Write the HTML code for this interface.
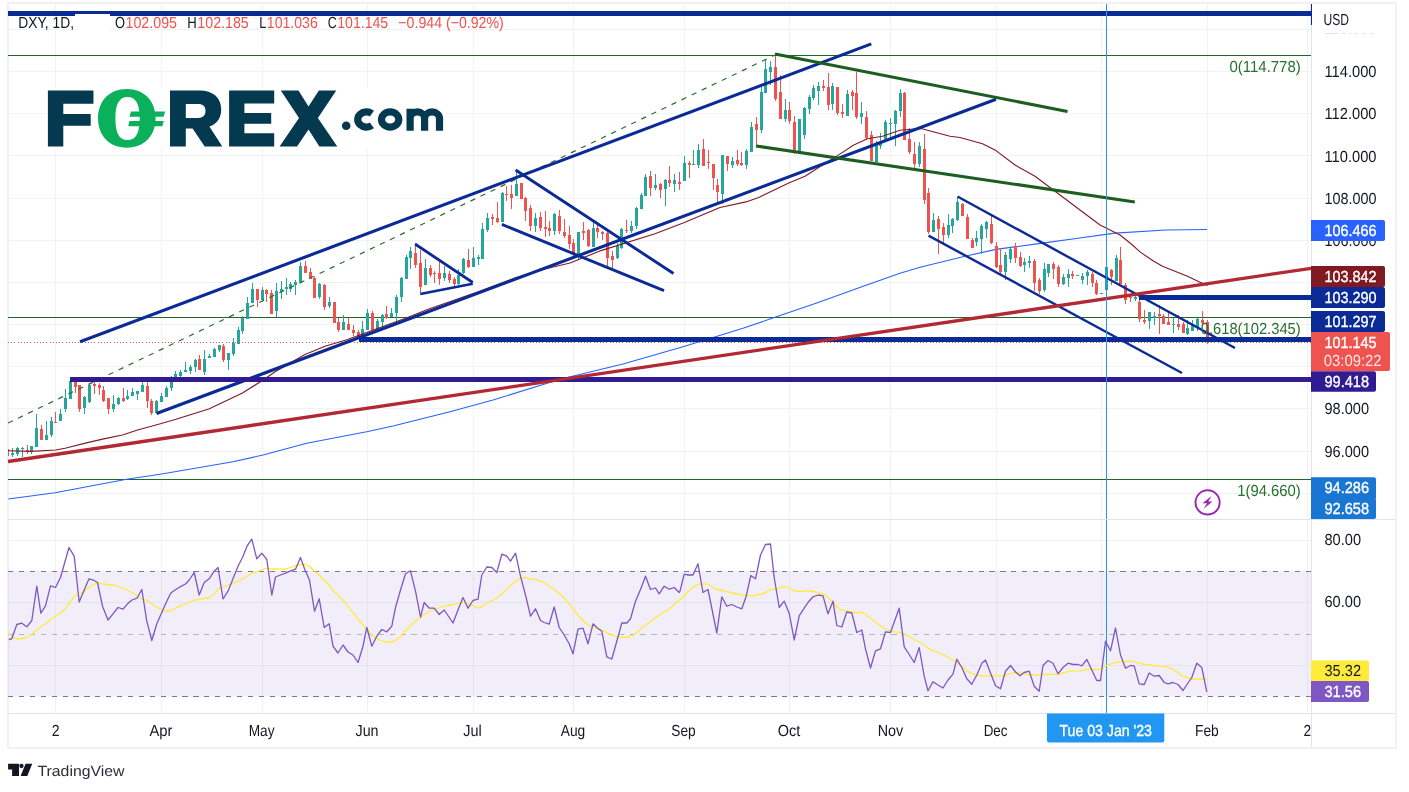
<!DOCTYPE html>
<html><head><meta charset="utf-8"><title>DXY chart</title>
<style>html,body{margin:0;padding:0;background:#fff;}body{width:1409px;height:792px;overflow:hidden;font-family:"Liberation Sans",sans-serif;}svg{display:block;will-change:transform}</style>
</head><body>
<svg width="1409" height="792" viewBox="0 0 1409 792" text-rendering="geometricPrecision" font-family="Liberation Sans, sans-serif">
<rect x="0" y="0" width="1409" height="792" fill="#ffffff"/>
<rect x="8" y="3" width="1388" height="745" fill="none" stroke="#f0f1f7" stroke-width="2"/>
<g shape-rendering="crispEdges">
<line x1="55.5" y1="4" x2="55.5" y2="713.5" stroke="#f1f3f3" stroke-width="1"/>
<line x1="161.5" y1="4" x2="161.5" y2="713.5" stroke="#f1f3f3" stroke-width="1"/>
<line x1="262.5" y1="4" x2="262.5" y2="713.5" stroke="#f1f3f3" stroke-width="1"/>
<line x1="367.5" y1="4" x2="367.5" y2="713.5" stroke="#f1f3f3" stroke-width="1"/>
<line x1="473.5" y1="4" x2="473.5" y2="713.5" stroke="#f1f3f3" stroke-width="1"/>
<line x1="573.5" y1="4" x2="573.5" y2="713.5" stroke="#f1f3f3" stroke-width="1"/>
<line x1="684.5" y1="4" x2="684.5" y2="713.5" stroke="#f1f3f3" stroke-width="1"/>
<line x1="789.5" y1="4" x2="789.5" y2="713.5" stroke="#f1f3f3" stroke-width="1"/>
<line x1="890.5" y1="4" x2="890.5" y2="713.5" stroke="#f1f3f3" stroke-width="1"/>
<line x1="996.5" y1="4" x2="996.5" y2="713.5" stroke="#f1f3f3" stroke-width="1"/>
<line x1="1101.5" y1="4" x2="1101.5" y2="713.5" stroke="#f1f3f3" stroke-width="1"/>
<line x1="1207.5" y1="4" x2="1207.5" y2="713.5" stroke="#f1f3f3" stroke-width="1"/>
<line x1="1307.5" y1="4" x2="1307.5" y2="713.5" stroke="#f1f3f3" stroke-width="1"/>
<line x1="8" y1="29.5" x2="1311" y2="29.5" stroke="#f1f3f3" stroke-width="1"/>
<line x1="8" y1="71.5" x2="1311" y2="71.5" stroke="#f1f3f3" stroke-width="1"/>
<line x1="8" y1="113.5" x2="1311" y2="113.5" stroke="#f1f3f3" stroke-width="1"/>
<line x1="8" y1="155.5" x2="1311" y2="155.5" stroke="#f1f3f3" stroke-width="1"/>
<line x1="8" y1="198.5" x2="1311" y2="198.5" stroke="#f1f3f3" stroke-width="1"/>
<line x1="8" y1="240.5" x2="1311" y2="240.5" stroke="#f1f3f3" stroke-width="1"/>
<line x1="8" y1="282.5" x2="1311" y2="282.5" stroke="#f1f3f3" stroke-width="1"/>
<line x1="8" y1="324.5" x2="1311" y2="324.5" stroke="#f1f3f3" stroke-width="1"/>
<line x1="8" y1="366.5" x2="1311" y2="366.5" stroke="#f1f3f3" stroke-width="1"/>
<line x1="8" y1="408.5" x2="1311" y2="408.5" stroke="#f1f3f3" stroke-width="1"/>
<line x1="8" y1="451.5" x2="1311" y2="451.5" stroke="#f1f3f3" stroke-width="1"/>
<line x1="8" y1="493.5" x2="1311" y2="493.5" stroke="#f1f3f3" stroke-width="1"/>
<line x1="8" y1="540.5" x2="1311" y2="540.5" stroke="#f1f3f3" stroke-width="1"/>
<line x1="8" y1="602.5" x2="1311" y2="602.5" stroke="#f1f3f3" stroke-width="1"/>
<line x1="8" y1="665.5" x2="1311" y2="665.5" stroke="#f1f3f3" stroke-width="1"/>
</g>
<rect x="8" y="571" width="1303" height="125.5" fill="#7e57c2" fill-opacity="0.1"/>
<g shape-rendering="crispEdges">
<line x1="8" y1="571.5" x2="1311" y2="571.5" stroke="#787b86" stroke-width="1" stroke-dasharray="5.2 5.705"/>
<line x1="8" y1="634.5" x2="1311" y2="634.5" stroke="#787b86" stroke-width="1" stroke-dasharray="5.2 5.705" stroke-opacity="0.5"/>
<line x1="8" y1="696.5" x2="1311" y2="696.5" stroke="#787b86" stroke-width="1" stroke-dasharray="5.2 5.705"/>
</g>
<g shape-rendering="crispEdges">
<line x1="8" y1="55.5" x2="1311" y2="55.5" stroke="#22662a" stroke-width="1"/>
<line x1="8" y1="317.5" x2="1311" y2="317.5" stroke="#22662a" stroke-width="1"/>
<line x1="8" y1="479.5" x2="1311" y2="479.5" stroke="#22662a" stroke-width="1"/>
<line x1="8" y1="342.5" x2="1311" y2="342.5" stroke="#ef5350" stroke-width="1" stroke-dasharray="1 2.2"/>
</g>
<polyline fill="none" stroke="#2962ff" stroke-width="1.1" stroke-linejoin="round" points="8.3,499 55,492.7 126.7,479.3 161.7,474 233,461.7 263,455 306.7,443.3 366.7,431.7 393,426 450,411.7 493,400 560,379.3 623,364 683,346.7 743,328.3 775,317.3 816,303.3 866.7,285 900,273.2 920,267.3 965,256.25 996,249.4 1042.5,243.1 1076,238.5 1115,233.1 1166,230 1207,229.5"/>
<clipPath id="plot"><rect x="8" y="4" width="1303" height="709"/></clipPath>
<g shape-rendering="crispEdges" clip-path="url(#plot)">
<rect x="8" y="449" width="1" height="7" fill="#ef5350"/>
<rect x="12" y="448" width="1" height="9" fill="#26a69a"/>
<rect x="11" y="453" width="3" height="2" fill="#26a69a"/>
<rect x="17" y="447" width="1" height="9" fill="#26a69a"/>
<rect x="16" y="448" width="3" height="6" fill="#26a69a"/>
<rect x="22" y="447" width="1" height="10" fill="#26a69a"/>
<rect x="21" y="448" width="3" height="1" fill="#26a69a"/>
<rect x="27" y="445" width="1" height="9" fill="#ef5350"/>
<rect x="26" y="450" width="3" height="1" fill="#ef5350"/>
<rect x="31" y="446" width="1" height="8" fill="#26a69a"/>
<rect x="30" y="446" width="3" height="6" fill="#26a69a"/>
<rect x="36" y="414" width="1" height="33" fill="#26a69a"/>
<rect x="35" y="428" width="3" height="19" fill="#26a69a"/>
<rect x="41" y="425" width="1" height="15" fill="#ef5350"/>
<rect x="40" y="429" width="3" height="11" fill="#ef5350"/>
<rect x="46" y="421" width="1" height="19" fill="#26a69a"/>
<rect x="45" y="435" width="3" height="5" fill="#26a69a"/>
<rect x="51" y="417" width="1" height="20" fill="#26a69a"/>
<rect x="50" y="421" width="3" height="14" fill="#26a69a"/>
<rect x="55" y="412" width="1" height="11" fill="#ef5350"/>
<rect x="54" y="422" width="3" height="1" fill="#ef5350"/>
<rect x="60" y="409" width="1" height="12" fill="#26a69a"/>
<rect x="59" y="414" width="3" height="7" fill="#26a69a"/>
<rect x="65" y="389" width="1" height="23" fill="#26a69a"/>
<rect x="64" y="398" width="3" height="11" fill="#26a69a"/>
<rect x="70" y="380" width="1" height="19" fill="#26a69a"/>
<rect x="69" y="381" width="3" height="18" fill="#26a69a"/>
<rect x="75" y="378" width="1" height="15" fill="#ef5350"/>
<rect x="74" y="380" width="3" height="7" fill="#ef5350"/>
<rect x="79" y="385" width="1" height="27" fill="#ef5350"/>
<rect x="78" y="385" width="3" height="24" fill="#ef5350"/>
<rect x="84" y="396" width="1" height="18" fill="#26a69a"/>
<rect x="83" y="397" width="3" height="11" fill="#26a69a"/>
<rect x="89" y="384" width="1" height="19" fill="#26a69a"/>
<rect x="88" y="385" width="3" height="17" fill="#26a69a"/>
<rect x="94" y="382" width="1" height="12" fill="#ef5350"/>
<rect x="93" y="384" width="3" height="2" fill="#ef5350"/>
<rect x="99" y="383" width="1" height="12" fill="#ef5350"/>
<rect x="98" y="385" width="3" height="3" fill="#ef5350"/>
<rect x="103" y="386" width="1" height="16" fill="#ef5350"/>
<rect x="102" y="390" width="3" height="11" fill="#ef5350"/>
<rect x="108" y="398" width="1" height="16" fill="#ef5350"/>
<rect x="107" y="398" width="3" height="11" fill="#ef5350"/>
<rect x="113" y="395" width="1" height="17" fill="#26a69a"/>
<rect x="112" y="404" width="3" height="5" fill="#26a69a"/>
<rect x="118" y="397" width="1" height="8" fill="#26a69a"/>
<rect x="117" y="398" width="3" height="6" fill="#26a69a"/>
<rect x="123" y="388" width="1" height="14" fill="#ef5350"/>
<rect x="122" y="398" width="3" height="3" fill="#ef5350"/>
<rect x="127" y="390" width="1" height="10" fill="#26a69a"/>
<rect x="126" y="396" width="3" height="3" fill="#26a69a"/>
<rect x="132" y="388" width="1" height="8" fill="#26a69a"/>
<rect x="131" y="392" width="3" height="4" fill="#26a69a"/>
<rect x="137" y="391" width="1" height="9" fill="#26a69a"/>
<rect x="136" y="391" width="3" height="3" fill="#26a69a"/>
<rect x="142" y="380" width="1" height="12" fill="#26a69a"/>
<rect x="141" y="385" width="3" height="7" fill="#26a69a"/>
<rect x="147" y="378" width="1" height="30" fill="#ef5350"/>
<rect x="146" y="386" width="3" height="15" fill="#ef5350"/>
<rect x="151" y="399" width="1" height="16" fill="#ef5350"/>
<rect x="150" y="401" width="3" height="12" fill="#ef5350"/>
<rect x="156" y="400" width="1" height="13" fill="#26a69a"/>
<rect x="155" y="401" width="3" height="12" fill="#26a69a"/>
<rect x="161" y="393" width="1" height="9" fill="#26a69a"/>
<rect x="160" y="396" width="3" height="6" fill="#26a69a"/>
<rect x="166" y="386" width="1" height="11" fill="#26a69a"/>
<rect x="165" y="388" width="3" height="9" fill="#26a69a"/>
<rect x="171" y="376" width="1" height="15" fill="#26a69a"/>
<rect x="170" y="382" width="3" height="6" fill="#26a69a"/>
<rect x="175" y="371" width="1" height="7" fill="#26a69a"/>
<rect x="174" y="374" width="3" height="4" fill="#26a69a"/>
<rect x="180" y="370" width="1" height="8" fill="#26a69a"/>
<rect x="179" y="372" width="3" height="4" fill="#26a69a"/>
<rect x="185" y="362" width="1" height="10" fill="#26a69a"/>
<rect x="184" y="370" width="3" height="2" fill="#26a69a"/>
<rect x="190" y="365" width="1" height="9" fill="#26a69a"/>
<rect x="189" y="367" width="3" height="4" fill="#26a69a"/>
<rect x="195" y="359" width="1" height="13" fill="#26a69a"/>
<rect x="194" y="360" width="3" height="7" fill="#26a69a"/>
<rect x="199" y="355" width="1" height="15" fill="#ef5350"/>
<rect x="198" y="359" width="3" height="11" fill="#ef5350"/>
<rect x="204" y="350" width="1" height="25" fill="#26a69a"/>
<rect x="203" y="359" width="3" height="13" fill="#26a69a"/>
<rect x="209" y="354" width="1" height="4" fill="#26a69a"/>
<rect x="208" y="356" width="3" height="2" fill="#26a69a"/>
<rect x="214" y="348" width="1" height="9" fill="#26a69a"/>
<rect x="213" y="349" width="3" height="8" fill="#26a69a"/>
<rect x="219" y="345" width="1" height="7" fill="#26a69a"/>
<rect x="218" y="345" width="3" height="5" fill="#26a69a"/>
<rect x="223" y="344" width="1" height="18" fill="#ef5350"/>
<rect x="222" y="346" width="3" height="14" fill="#ef5350"/>
<rect x="228" y="353" width="1" height="17" fill="#26a69a"/>
<rect x="227" y="353" width="3" height="7" fill="#26a69a"/>
<rect x="233" y="338" width="1" height="18" fill="#26a69a"/>
<rect x="232" y="343" width="3" height="11" fill="#26a69a"/>
<rect x="238" y="327" width="1" height="17" fill="#26a69a"/>
<rect x="237" y="330" width="3" height="14" fill="#26a69a"/>
<rect x="242" y="316" width="1" height="18" fill="#26a69a"/>
<rect x="241" y="318" width="3" height="13" fill="#26a69a"/>
<rect x="247" y="297" width="1" height="22" fill="#26a69a"/>
<rect x="246" y="303" width="3" height="16" fill="#26a69a"/>
<rect x="252" y="283" width="1" height="20" fill="#26a69a"/>
<rect x="251" y="289" width="3" height="14" fill="#26a69a"/>
<rect x="257" y="289" width="1" height="18" fill="#ef5350"/>
<rect x="256" y="289" width="3" height="11" fill="#ef5350"/>
<rect x="262" y="287" width="1" height="14" fill="#26a69a"/>
<rect x="261" y="290" width="3" height="10" fill="#26a69a"/>
<rect x="266" y="289" width="1" height="13" fill="#ef5350"/>
<rect x="265" y="290" width="3" height="4" fill="#ef5350"/>
<rect x="271" y="290" width="1" height="24" fill="#ef5350"/>
<rect x="270" y="293" width="3" height="21" fill="#ef5350"/>
<rect x="276" y="283" width="1" height="34" fill="#26a69a"/>
<rect x="275" y="291" width="3" height="20" fill="#26a69a"/>
<rect x="281" y="281" width="1" height="18" fill="#26a69a"/>
<rect x="280" y="289" width="3" height="3" fill="#26a69a"/>
<rect x="286" y="278" width="1" height="17" fill="#26a69a"/>
<rect x="285" y="287" width="3" height="2" fill="#26a69a"/>
<rect x="290" y="282" width="1" height="10" fill="#26a69a"/>
<rect x="289" y="284" width="3" height="5" fill="#26a69a"/>
<rect x="295" y="280" width="1" height="15" fill="#26a69a"/>
<rect x="294" y="282" width="3" height="3" fill="#26a69a"/>
<rect x="300" y="262" width="1" height="21" fill="#26a69a"/>
<rect x="299" y="266" width="3" height="17" fill="#26a69a"/>
<rect x="305" y="261" width="1" height="12" fill="#ef5350"/>
<rect x="304" y="266" width="3" height="7" fill="#ef5350"/>
<rect x="310" y="268" width="1" height="11" fill="#ef5350"/>
<rect x="309" y="272" width="3" height="7" fill="#ef5350"/>
<rect x="314" y="277" width="1" height="21" fill="#ef5350"/>
<rect x="313" y="278" width="3" height="20" fill="#ef5350"/>
<rect x="319" y="283" width="1" height="16" fill="#26a69a"/>
<rect x="318" y="284" width="3" height="13" fill="#26a69a"/>
<rect x="324" y="284" width="1" height="26" fill="#ef5350"/>
<rect x="323" y="285" width="3" height="22" fill="#ef5350"/>
<rect x="329" y="297" width="1" height="11" fill="#26a69a"/>
<rect x="328" y="302" width="3" height="4" fill="#26a69a"/>
<rect x="334" y="302" width="1" height="21" fill="#ef5350"/>
<rect x="333" y="302" width="3" height="21" fill="#ef5350"/>
<rect x="338" y="318" width="1" height="14" fill="#ef5350"/>
<rect x="337" y="322" width="3" height="8" fill="#ef5350"/>
<rect x="343" y="315" width="1" height="15" fill="#26a69a"/>
<rect x="342" y="322" width="3" height="8" fill="#26a69a"/>
<rect x="348" y="318" width="1" height="12" fill="#ef5350"/>
<rect x="347" y="324" width="3" height="6" fill="#ef5350"/>
<rect x="353" y="325" width="1" height="11" fill="#ef5350"/>
<rect x="352" y="330" width="3" height="3" fill="#ef5350"/>
<rect x="358" y="330" width="1" height="8" fill="#ef5350"/>
<rect x="357" y="332" width="3" height="6" fill="#ef5350"/>
<rect x="362" y="321" width="1" height="15" fill="#26a69a"/>
<rect x="361" y="329" width="3" height="7" fill="#26a69a"/>
<rect x="367" y="309" width="1" height="21" fill="#26a69a"/>
<rect x="366" y="313" width="3" height="17" fill="#26a69a"/>
<rect x="372" y="311" width="1" height="19" fill="#ef5350"/>
<rect x="371" y="313" width="3" height="17" fill="#ef5350"/>
<rect x="377" y="319" width="1" height="11" fill="#26a69a"/>
<rect x="376" y="321" width="3" height="9" fill="#26a69a"/>
<rect x="382" y="314" width="1" height="13" fill="#26a69a"/>
<rect x="381" y="315" width="3" height="7" fill="#26a69a"/>
<rect x="386" y="306" width="1" height="13" fill="#ef5350"/>
<rect x="385" y="314" width="3" height="4" fill="#ef5350"/>
<rect x="391" y="308" width="1" height="9" fill="#26a69a"/>
<rect x="390" y="313" width="3" height="4" fill="#26a69a"/>
<rect x="396" y="295" width="1" height="26" fill="#26a69a"/>
<rect x="395" y="297" width="3" height="16" fill="#26a69a"/>
<rect x="401" y="277" width="1" height="25" fill="#26a69a"/>
<rect x="400" y="278" width="3" height="19" fill="#26a69a"/>
<rect x="406" y="255" width="1" height="24" fill="#26a69a"/>
<rect x="405" y="257" width="3" height="22" fill="#26a69a"/>
<rect x="410" y="247" width="1" height="22" fill="#26a69a"/>
<rect x="409" y="251" width="3" height="7" fill="#26a69a"/>
<rect x="415" y="246" width="1" height="22" fill="#ef5350"/>
<rect x="414" y="253" width="3" height="12" fill="#ef5350"/>
<rect x="420" y="250" width="1" height="43" fill="#ef5350"/>
<rect x="419" y="263" width="3" height="24" fill="#ef5350"/>
<rect x="425" y="259" width="1" height="26" fill="#26a69a"/>
<rect x="424" y="268" width="3" height="17" fill="#26a69a"/>
<rect x="430" y="265" width="1" height="12" fill="#ef5350"/>
<rect x="429" y="268" width="3" height="7" fill="#ef5350"/>
<rect x="434" y="271" width="1" height="12" fill="#ef5350"/>
<rect x="433" y="273" width="3" height="1" fill="#ef5350"/>
<rect x="439" y="262" width="1" height="23" fill="#ef5350"/>
<rect x="438" y="273" width="3" height="6" fill="#ef5350"/>
<rect x="444" y="266" width="1" height="15" fill="#26a69a"/>
<rect x="443" y="273" width="3" height="5" fill="#26a69a"/>
<rect x="449" y="271" width="1" height="12" fill="#ef5350"/>
<rect x="448" y="274" width="3" height="6" fill="#ef5350"/>
<rect x="454" y="277" width="1" height="11" fill="#ef5350"/>
<rect x="453" y="279" width="3" height="5" fill="#ef5350"/>
<rect x="458" y="269" width="1" height="16" fill="#26a69a"/>
<rect x="457" y="275" width="3" height="9" fill="#26a69a"/>
<rect x="463" y="258" width="1" height="16" fill="#26a69a"/>
<rect x="462" y="259" width="3" height="14" fill="#26a69a"/>
<rect x="468" y="249" width="1" height="19" fill="#ef5350"/>
<rect x="467" y="260" width="3" height="7" fill="#ef5350"/>
<rect x="473" y="247" width="1" height="20" fill="#26a69a"/>
<rect x="472" y="258" width="3" height="9" fill="#26a69a"/>
<rect x="478" y="255" width="1" height="10" fill="#26a69a"/>
<rect x="477" y="257" width="3" height="2" fill="#26a69a"/>
<rect x="482" y="223" width="1" height="36" fill="#26a69a"/>
<rect x="481" y="229" width="3" height="30" fill="#26a69a"/>
<rect x="487" y="213" width="1" height="19" fill="#26a69a"/>
<rect x="486" y="218" width="3" height="12" fill="#26a69a"/>
<rect x="492" y="214" width="1" height="11" fill="#ef5350"/>
<rect x="491" y="217" width="3" height="2" fill="#ef5350"/>
<rect x="497" y="202" width="1" height="21" fill="#ef5350"/>
<rect x="496" y="218" width="3" height="4" fill="#ef5350"/>
<rect x="502" y="192" width="1" height="30" fill="#26a69a"/>
<rect x="501" y="193" width="3" height="29" fill="#26a69a"/>
<rect x="506" y="186" width="1" height="15" fill="#ef5350"/>
<rect x="505" y="194" width="3" height="1" fill="#ef5350"/>
<rect x="511" y="185" width="1" height="24" fill="#ef5350"/>
<rect x="510" y="194" width="3" height="4" fill="#ef5350"/>
<rect x="516" y="172" width="1" height="24" fill="#26a69a"/>
<rect x="515" y="184" width="3" height="12" fill="#26a69a"/>
<rect x="521" y="183" width="1" height="16" fill="#ef5350"/>
<rect x="520" y="183" width="3" height="16" fill="#ef5350"/>
<rect x="525" y="197" width="1" height="24" fill="#ef5350"/>
<rect x="524" y="198" width="3" height="13" fill="#ef5350"/>
<rect x="530" y="205" width="1" height="26" fill="#ef5350"/>
<rect x="529" y="208" width="3" height="18" fill="#ef5350"/>
<rect x="535" y="213" width="1" height="19" fill="#26a69a"/>
<rect x="534" y="218" width="3" height="8" fill="#26a69a"/>
<rect x="540" y="212" width="1" height="19" fill="#ef5350"/>
<rect x="539" y="217" width="3" height="11" fill="#ef5350"/>
<rect x="545" y="211" width="1" height="26" fill="#ef5350"/>
<rect x="544" y="227" width="3" height="2" fill="#ef5350"/>
<rect x="549" y="221" width="1" height="15" fill="#ef5350"/>
<rect x="548" y="228" width="3" height="3" fill="#ef5350"/>
<rect x="554" y="213" width="1" height="22" fill="#26a69a"/>
<rect x="553" y="214" width="3" height="17" fill="#26a69a"/>
<rect x="559" y="210" width="1" height="24" fill="#ef5350"/>
<rect x="558" y="216" width="3" height="15" fill="#ef5350"/>
<rect x="564" y="219" width="1" height="19" fill="#ef5350"/>
<rect x="563" y="232" width="3" height="4" fill="#ef5350"/>
<rect x="569" y="226" width="1" height="23" fill="#ef5350"/>
<rect x="568" y="235" width="3" height="9" fill="#ef5350"/>
<rect x="573" y="239" width="1" height="17" fill="#ef5350"/>
<rect x="572" y="243" width="3" height="12" fill="#ef5350"/>
<rect x="578" y="232" width="1" height="28" fill="#26a69a"/>
<rect x="577" y="232" width="3" height="22" fill="#26a69a"/>
<rect x="583" y="222" width="1" height="18" fill="#ef5350"/>
<rect x="582" y="231" width="3" height="2" fill="#ef5350"/>
<rect x="588" y="229" width="1" height="18" fill="#ef5350"/>
<rect x="587" y="230" width="3" height="16" fill="#ef5350"/>
<rect x="593" y="222" width="1" height="25" fill="#26a69a"/>
<rect x="592" y="228" width="3" height="19" fill="#26a69a"/>
<rect x="597" y="225" width="1" height="13" fill="#ef5350"/>
<rect x="596" y="228" width="3" height="4" fill="#ef5350"/>
<rect x="602" y="231" width="1" height="9" fill="#ef5350"/>
<rect x="601" y="232" width="3" height="2" fill="#ef5350"/>
<rect x="607" y="232" width="1" height="34" fill="#ef5350"/>
<rect x="606" y="233" width="3" height="25" fill="#ef5350"/>
<rect x="612" y="251" width="1" height="17" fill="#ef5350"/>
<rect x="611" y="256" width="3" height="4" fill="#ef5350"/>
<rect x="617" y="243" width="1" height="16" fill="#26a69a"/>
<rect x="616" y="246" width="3" height="12" fill="#26a69a"/>
<rect x="621" y="228" width="1" height="21" fill="#26a69a"/>
<rect x="620" y="229" width="3" height="19" fill="#26a69a"/>
<rect x="626" y="220" width="1" height="13" fill="#ef5350"/>
<rect x="625" y="230" width="3" height="1" fill="#ef5350"/>
<rect x="631" y="221" width="1" height="12" fill="#26a69a"/>
<rect x="630" y="226" width="3" height="5" fill="#26a69a"/>
<rect x="636" y="207" width="1" height="22" fill="#26a69a"/>
<rect x="635" y="208" width="3" height="18" fill="#26a69a"/>
<rect x="641" y="193" width="1" height="16" fill="#26a69a"/>
<rect x="640" y="195" width="3" height="14" fill="#26a69a"/>
<rect x="645" y="174" width="1" height="22" fill="#26a69a"/>
<rect x="644" y="177" width="3" height="19" fill="#26a69a"/>
<rect x="650" y="171" width="1" height="25" fill="#ef5350"/>
<rect x="649" y="176" width="3" height="12" fill="#ef5350"/>
<rect x="655" y="174" width="1" height="16" fill="#26a69a"/>
<rect x="654" y="185" width="3" height="3" fill="#26a69a"/>
<rect x="660" y="183" width="1" height="15" fill="#ef5350"/>
<rect x="659" y="184" width="3" height="6" fill="#ef5350"/>
<rect x="665" y="179" width="1" height="27" fill="#26a69a"/>
<rect x="664" y="180" width="3" height="9" fill="#26a69a"/>
<rect x="669" y="166" width="1" height="21" fill="#ef5350"/>
<rect x="668" y="180" width="3" height="3" fill="#ef5350"/>
<rect x="674" y="174" width="1" height="18" fill="#26a69a"/>
<rect x="673" y="180" width="3" height="4" fill="#26a69a"/>
<rect x="679" y="172" width="1" height="18" fill="#ef5350"/>
<rect x="678" y="182" width="3" height="2" fill="#ef5350"/>
<rect x="684" y="156" width="1" height="25" fill="#26a69a"/>
<rect x="683" y="163" width="3" height="18" fill="#26a69a"/>
<rect x="689" y="161" width="1" height="17" fill="#ef5350"/>
<rect x="688" y="163" width="3" height="2" fill="#ef5350"/>
<rect x="693" y="150" width="1" height="15" fill="#26a69a"/>
<rect x="692" y="164" width="3" height="1" fill="#26a69a"/>
<rect x="698" y="144" width="1" height="24" fill="#26a69a"/>
<rect x="697" y="150" width="3" height="15" fill="#26a69a"/>
<rect x="703" y="139" width="1" height="27" fill="#ef5350"/>
<rect x="702" y="149" width="3" height="17" fill="#ef5350"/>
<rect x="708" y="150" width="1" height="19" fill="#ef5350"/>
<rect x="707" y="162" width="3" height="1" fill="#ef5350"/>
<rect x="713" y="164" width="1" height="26" fill="#ef5350"/>
<rect x="712" y="164" width="3" height="14" fill="#ef5350"/>
<rect x="717" y="179" width="1" height="23" fill="#ef5350"/>
<rect x="716" y="185" width="3" height="7" fill="#ef5350"/>
<rect x="722" y="155" width="1" height="49" fill="#26a69a"/>
<rect x="721" y="155" width="3" height="39" fill="#26a69a"/>
<rect x="727" y="156" width="1" height="15" fill="#ef5350"/>
<rect x="726" y="156" width="3" height="8" fill="#ef5350"/>
<rect x="732" y="157" width="1" height="11" fill="#26a69a"/>
<rect x="731" y="161" width="3" height="4" fill="#26a69a"/>
<rect x="737" y="150" width="1" height="16" fill="#ef5350"/>
<rect x="736" y="160" width="3" height="4" fill="#ef5350"/>
<rect x="741" y="152" width="1" height="14" fill="#ef5350"/>
<rect x="740" y="163" width="3" height="2" fill="#ef5350"/>
<rect x="746" y="149" width="1" height="20" fill="#26a69a"/>
<rect x="745" y="151" width="3" height="14" fill="#26a69a"/>
<rect x="751" y="122" width="1" height="30" fill="#26a69a"/>
<rect x="750" y="127" width="3" height="25" fill="#26a69a"/>
<rect x="756" y="117" width="1" height="28" fill="#ef5350"/>
<rect x="755" y="124" width="3" height="6" fill="#ef5350"/>
<rect x="761" y="87" width="1" height="46" fill="#26a69a"/>
<rect x="760" y="92" width="3" height="38" fill="#26a69a"/>
<rect x="765" y="59" width="1" height="34" fill="#26a69a"/>
<rect x="764" y="69" width="3" height="24" fill="#26a69a"/>
<rect x="770" y="61" width="1" height="24" fill="#26a69a"/>
<rect x="769" y="67" width="3" height="5" fill="#26a69a"/>
<rect x="775" y="56" width="1" height="45" fill="#ef5350"/>
<rect x="774" y="67" width="3" height="32" fill="#ef5350"/>
<rect x="780" y="75" width="1" height="44" fill="#ef5350"/>
<rect x="779" y="92" width="3" height="27" fill="#ef5350"/>
<rect x="785" y="99" width="1" height="23" fill="#26a69a"/>
<rect x="784" y="110" width="3" height="9" fill="#26a69a"/>
<rect x="789" y="102" width="1" height="22" fill="#ef5350"/>
<rect x="788" y="110" width="3" height="11" fill="#ef5350"/>
<rect x="794" y="116" width="1" height="38" fill="#ef5350"/>
<rect x="793" y="122" width="3" height="28" fill="#ef5350"/>
<rect x="799" y="119" width="1" height="32" fill="#26a69a"/>
<rect x="798" y="119" width="3" height="32" fill="#26a69a"/>
<rect x="804" y="107" width="1" height="32" fill="#26a69a"/>
<rect x="803" y="108" width="3" height="27" fill="#26a69a"/>
<rect x="809" y="95" width="1" height="19" fill="#26a69a"/>
<rect x="808" y="97" width="3" height="12" fill="#26a69a"/>
<rect x="813" y="85" width="1" height="15" fill="#26a69a"/>
<rect x="812" y="88" width="3" height="10" fill="#26a69a"/>
<rect x="818" y="82" width="1" height="23" fill="#26a69a"/>
<rect x="817" y="86" width="3" height="5" fill="#26a69a"/>
<rect x="823" y="80" width="1" height="11" fill="#ef5350"/>
<rect x="822" y="86" width="3" height="2" fill="#ef5350"/>
<rect x="828" y="73" width="1" height="37" fill="#ef5350"/>
<rect x="827" y="87" width="3" height="18" fill="#ef5350"/>
<rect x="832" y="83" width="1" height="27" fill="#26a69a"/>
<rect x="831" y="86" width="3" height="18" fill="#26a69a"/>
<rect x="837" y="87" width="1" height="28" fill="#ef5350"/>
<rect x="836" y="87" width="3" height="26" fill="#ef5350"/>
<rect x="842" y="104" width="1" height="14" fill="#ef5350"/>
<rect x="841" y="112" width="3" height="2" fill="#ef5350"/>
<rect x="847" y="90" width="1" height="26" fill="#26a69a"/>
<rect x="846" y="94" width="3" height="22" fill="#26a69a"/>
<rect x="852" y="90" width="1" height="20" fill="#ef5350"/>
<rect x="851" y="92" width="3" height="4" fill="#ef5350"/>
<rect x="856" y="72" width="1" height="47" fill="#ef5350"/>
<rect x="855" y="93" width="3" height="24" fill="#ef5350"/>
<rect x="861" y="102" width="1" height="22" fill="#26a69a"/>
<rect x="860" y="113" width="3" height="4" fill="#26a69a"/>
<rect x="866" y="111" width="1" height="28" fill="#ef5350"/>
<rect x="865" y="117" width="3" height="21" fill="#ef5350"/>
<rect x="871" y="131" width="1" height="30" fill="#ef5350"/>
<rect x="870" y="135" width="3" height="26" fill="#ef5350"/>
<rect x="876" y="141" width="1" height="21" fill="#26a69a"/>
<rect x="875" y="144" width="3" height="18" fill="#26a69a"/>
<rect x="880" y="133" width="1" height="16" fill="#26a69a"/>
<rect x="879" y="142" width="3" height="4" fill="#26a69a"/>
<rect x="885" y="120" width="1" height="20" fill="#26a69a"/>
<rect x="884" y="122" width="3" height="17" fill="#26a69a"/>
<rect x="890" y="118" width="1" height="19" fill="#26a69a"/>
<rect x="889" y="123" width="3" height="1" fill="#26a69a"/>
<rect x="895" y="110" width="1" height="36" fill="#26a69a"/>
<rect x="894" y="111" width="3" height="13" fill="#26a69a"/>
<rect x="900" y="89" width="1" height="28" fill="#26a69a"/>
<rect x="899" y="93" width="3" height="18" fill="#26a69a"/>
<rect x="904" y="92" width="1" height="48" fill="#ef5350"/>
<rect x="903" y="93" width="3" height="47" fill="#ef5350"/>
<rect x="909" y="128" width="1" height="26" fill="#ef5350"/>
<rect x="908" y="139" width="3" height="13" fill="#ef5350"/>
<rect x="914" y="142" width="1" height="26" fill="#ef5350"/>
<rect x="913" y="154" width="3" height="10" fill="#ef5350"/>
<rect x="919" y="142" width="1" height="25" fill="#26a69a"/>
<rect x="918" y="146" width="3" height="18" fill="#26a69a"/>
<rect x="924" y="134" width="1" height="70" fill="#ef5350"/>
<rect x="923" y="149" width="3" height="51" fill="#ef5350"/>
<rect x="928" y="188" width="1" height="46" fill="#ef5350"/>
<rect x="927" y="193" width="3" height="39" fill="#ef5350"/>
<rect x="933" y="213" width="1" height="19" fill="#26a69a"/>
<rect x="932" y="220" width="3" height="12" fill="#26a69a"/>
<rect x="938" y="216" width="1" height="38" fill="#ef5350"/>
<rect x="937" y="219" width="3" height="10" fill="#ef5350"/>
<rect x="943" y="223" width="1" height="20" fill="#ef5350"/>
<rect x="942" y="227" width="3" height="8" fill="#ef5350"/>
<rect x="948" y="214" width="1" height="24" fill="#26a69a"/>
<rect x="947" y="225" width="3" height="10" fill="#26a69a"/>
<rect x="952" y="218" width="1" height="15" fill="#26a69a"/>
<rect x="951" y="219" width="3" height="7" fill="#26a69a"/>
<rect x="957" y="197" width="1" height="24" fill="#26a69a"/>
<rect x="956" y="202" width="3" height="18" fill="#26a69a"/>
<rect x="962" y="203" width="1" height="13" fill="#ef5350"/>
<rect x="961" y="204" width="3" height="12" fill="#ef5350"/>
<rect x="967" y="214" width="1" height="25" fill="#ef5350"/>
<rect x="966" y="217" width="3" height="22" fill="#ef5350"/>
<rect x="972" y="238" width="1" height="10" fill="#ef5350"/>
<rect x="971" y="240" width="3" height="8" fill="#ef5350"/>
<rect x="976" y="231" width="1" height="15" fill="#26a69a"/>
<rect x="975" y="238" width="3" height="4" fill="#26a69a"/>
<rect x="981" y="224" width="1" height="30" fill="#26a69a"/>
<rect x="980" y="226" width="3" height="13" fill="#26a69a"/>
<rect x="986" y="221" width="1" height="17" fill="#26a69a"/>
<rect x="985" y="222" width="3" height="7" fill="#26a69a"/>
<rect x="991" y="216" width="1" height="28" fill="#ef5350"/>
<rect x="990" y="224" width="3" height="19" fill="#ef5350"/>
<rect x="996" y="242" width="1" height="26" fill="#ef5350"/>
<rect x="995" y="246" width="3" height="21" fill="#ef5350"/>
<rect x="1000" y="248" width="1" height="26" fill="#ef5350"/>
<rect x="999" y="265" width="3" height="7" fill="#ef5350"/>
<rect x="1005" y="252" width="1" height="28" fill="#26a69a"/>
<rect x="1004" y="255" width="3" height="17" fill="#26a69a"/>
<rect x="1010" y="248" width="1" height="15" fill="#26a69a"/>
<rect x="1009" y="249" width="3" height="10" fill="#26a69a"/>
<rect x="1015" y="243" width="1" height="20" fill="#ef5350"/>
<rect x="1014" y="246" width="3" height="12" fill="#ef5350"/>
<rect x="1020" y="252" width="1" height="15" fill="#ef5350"/>
<rect x="1019" y="257" width="3" height="9" fill="#ef5350"/>
<rect x="1024" y="258" width="1" height="14" fill="#26a69a"/>
<rect x="1023" y="262" width="3" height="3" fill="#26a69a"/>
<rect x="1029" y="256" width="1" height="12" fill="#26a69a"/>
<rect x="1028" y="261" width="3" height="2" fill="#26a69a"/>
<rect x="1034" y="259" width="1" height="32" fill="#ef5350"/>
<rect x="1033" y="261" width="3" height="22" fill="#ef5350"/>
<rect x="1039" y="278" width="1" height="16" fill="#ef5350"/>
<rect x="1038" y="280" width="3" height="11" fill="#ef5350"/>
<rect x="1044" y="263" width="1" height="29" fill="#26a69a"/>
<rect x="1043" y="269" width="3" height="21" fill="#26a69a"/>
<rect x="1048" y="264" width="1" height="13" fill="#26a69a"/>
<rect x="1047" y="264" width="3" height="9" fill="#26a69a"/>
<rect x="1053" y="262" width="1" height="17" fill="#ef5350"/>
<rect x="1052" y="264" width="3" height="5" fill="#ef5350"/>
<rect x="1058" y="265" width="1" height="22" fill="#ef5350"/>
<rect x="1057" y="267" width="3" height="17" fill="#ef5350"/>
<rect x="1063" y="274" width="1" height="11" fill="#26a69a"/>
<rect x="1062" y="277" width="3" height="7" fill="#26a69a"/>
<rect x="1068" y="269" width="1" height="18" fill="#26a69a"/>
<rect x="1067" y="274" width="3" height="4" fill="#26a69a"/>
<rect x="1072" y="271" width="1" height="8" fill="#ef5350"/>
<rect x="1071" y="274" width="3" height="2" fill="#ef5350"/>
<rect x="1077" y="275" width="1" height="1" fill="#26a69a"/>
<rect x="1076" y="275" width="3" height="1" fill="#26a69a"/>
<rect x="1082" y="273" width="1" height="11" fill="#26a69a"/>
<rect x="1081" y="276" width="3" height="4" fill="#26a69a"/>
<rect x="1087" y="270" width="1" height="15" fill="#26a69a"/>
<rect x="1086" y="272" width="3" height="4" fill="#26a69a"/>
<rect x="1092" y="272" width="1" height="15" fill="#ef5350"/>
<rect x="1091" y="274" width="3" height="9" fill="#ef5350"/>
<rect x="1096" y="280" width="1" height="15" fill="#ef5350"/>
<rect x="1095" y="283" width="3" height="11" fill="#ef5350"/>
<rect x="1101" y="293" width="1" height="1" fill="#26a69a"/>
<rect x="1100" y="293" width="3" height="1" fill="#26a69a"/>
<rect x="1106" y="266" width="1" height="24" fill="#26a69a"/>
<rect x="1105" y="267" width="3" height="23" fill="#26a69a"/>
<rect x="1111" y="269" width="1" height="16" fill="#ef5350"/>
<rect x="1110" y="270" width="3" height="7" fill="#ef5350"/>
<rect x="1116" y="255" width="1" height="26" fill="#26a69a"/>
<rect x="1115" y="258" width="3" height="23" fill="#26a69a"/>
<rect x="1120" y="247" width="1" height="37" fill="#ef5350"/>
<rect x="1119" y="260" width="3" height="24" fill="#ef5350"/>
<rect x="1125" y="283" width="1" height="21" fill="#ef5350"/>
<rect x="1124" y="285" width="3" height="15" fill="#ef5350"/>
<rect x="1130" y="295" width="1" height="7" fill="#ef5350"/>
<rect x="1129" y="297" width="3" height="1" fill="#ef5350"/>
<rect x="1135" y="295" width="1" height="6" fill="#26a69a"/>
<rect x="1134" y="297" width="3" height="2" fill="#26a69a"/>
<rect x="1139" y="299" width="1" height="23" fill="#ef5350"/>
<rect x="1138" y="302" width="3" height="17" fill="#ef5350"/>
<rect x="1144" y="310" width="1" height="14" fill="#ef5350"/>
<rect x="1143" y="320" width="3" height="2" fill="#ef5350"/>
<rect x="1149" y="312" width="1" height="17" fill="#26a69a"/>
<rect x="1148" y="312" width="3" height="9" fill="#26a69a"/>
<rect x="1154" y="312" width="1" height="13" fill="#26a69a"/>
<rect x="1153" y="316" width="3" height="2" fill="#26a69a"/>
<rect x="1159" y="305" width="1" height="29" fill="#ef5350"/>
<rect x="1158" y="314" width="3" height="2" fill="#ef5350"/>
<rect x="1163" y="314" width="1" height="10" fill="#ef5350"/>
<rect x="1162" y="316" width="3" height="8" fill="#ef5350"/>
<rect x="1168" y="312" width="1" height="13" fill="#ef5350"/>
<rect x="1167" y="322" width="3" height="3" fill="#ef5350"/>
<rect x="1173" y="318" width="1" height="15" fill="#26a69a"/>
<rect x="1172" y="324" width="3" height="1" fill="#26a69a"/>
<rect x="1178" y="315" width="1" height="15" fill="#ef5350"/>
<rect x="1177" y="324" width="3" height="3" fill="#ef5350"/>
<rect x="1183" y="322" width="1" height="11" fill="#ef5350"/>
<rect x="1182" y="324" width="3" height="9" fill="#ef5350"/>
<rect x="1187" y="320" width="1" height="15" fill="#26a69a"/>
<rect x="1186" y="328" width="3" height="6" fill="#26a69a"/>
<rect x="1192" y="320" width="1" height="11" fill="#26a69a"/>
<rect x="1191" y="324" width="3" height="7" fill="#26a69a"/>
<rect x="1197" y="318" width="1" height="13" fill="#26a69a"/>
<rect x="1196" y="319" width="3" height="9" fill="#26a69a"/>
<rect x="1202" y="311" width="1" height="13" fill="#ef5350"/>
<rect x="1201" y="320" width="3" height="3" fill="#ef5350"/>
<rect x="1207" y="320" width="1" height="24" fill="#ef5350"/>
<rect x="1206" y="322" width="3" height="20" fill="#ef5350"/>
</g>
<polyline fill="none" stroke="#801922" stroke-width="1.1" stroke-linejoin="round" points="8,450.75 31,451.4 55.6,450 65,448.25 87.5,442.6 103.75,438.9 122.5,435 137.5,430 156,425 176,419.25 208.75,409 242.5,393 260,382 276,371.25 305,354.4 325,346.25 346,340 407.5,317.5 427.5,309.4 477.5,291.9 516,277.5 545,269 570,263 601,250.6 655,233.75 684.4,222.5 720,207.5 746,201.9 758.75,197.5 788.75,183 805,176.25 822.5,165 837.5,155.6 853.75,145 867.5,138.75 882.5,136.25 900,130.3 911,129.2 921,128.5 950,136.25 960,137.5 982.5,143.75 996,150.6 1015,165 1035,176.25 1065,198.75 1100,225 1120,235 1131,243.75 1140,251.9 1153.75,261.25 1162.5,266.25 1187.5,276.25 1200,282.2 1207.3,285.6"/>
<line x1="8" y1="423" x2="775" y2="55" stroke="#2a6e2d" stroke-width="1.2" stroke-dasharray="5.3 5.85"/>
<line x1="80" y1="341.8" x2="871.3" y2="43.9" stroke="#0a2a96" stroke-width="3.1"/>
<line x1="156.5" y1="413.5" x2="996" y2="99.3" stroke="#0a2a96" stroke-width="3.1"/>
<line x1="415" y1="244" x2="472.75" y2="282.5" stroke="#0a2a96" stroke-width="2.8"/>
<line x1="420.25" y1="294" x2="472.75" y2="283.75" stroke="#0a2a96" stroke-width="2.8"/>
<line x1="515.6" y1="170" x2="673.5" y2="273.5" stroke="#0a2a96" stroke-width="2.9"/>
<line x1="501.9" y1="224.4" x2="664" y2="290.7" stroke="#0a2a96" stroke-width="2.9"/>
<line x1="775" y1="54" x2="1067.5" y2="111.5" stroke="#1b5e20" stroke-width="3.1"/>
<line x1="756" y1="146" x2="1134.8" y2="202" stroke="#1b5e20" stroke-width="3.1"/>
<line x1="957.5" y1="196.5" x2="1235" y2="348" stroke="#0a2a96" stroke-width="2.4"/>
<line x1="928.5" y1="235.6" x2="1182" y2="373" stroke="#0a2a96" stroke-width="2.4"/>
<g shape-rendering="crispEdges">
<line x1="8" y1="13.5" x2="1311" y2="13.5" stroke="#0a2a96" stroke-width="5"/>
<line x1="358.5" y1="339.5" x2="1311" y2="339.5" stroke="#0a2a96" stroke-width="5"/>
<line x1="1139" y1="297.5" x2="1311" y2="297.5" stroke="#0a2a96" stroke-width="5"/>
<line x1="70" y1="379.5" x2="1311" y2="379.5" stroke="#311b92" stroke-width="5"/>
</g>
<line x1="1311.5" y1="4" x2="1311.5" y2="25" stroke="#0a2a96" stroke-width="1.2"/>
<line x1="8" y1="461.5" x2="1311" y2="268.3" stroke="#b22833" stroke-width="3.3"/>
<g shape-rendering="crispEdges">
<line x1="1106.5" y1="4" x2="1106.5" y2="713.5" stroke="#2196f3" stroke-width="1"/>
</g>
<polyline fill="none" stroke="#ffeb3b" stroke-width="1.3" stroke-linejoin="round" points="8.8,633.8 11.8,637 16.8,638.8 21.8,638.5 26.8,637.5 31.8,634.5 36.8,630 40.8,627 45.5,623.8 50.5,619.5 55.5,616.2 60.5,613 65.5,608.8 70.5,601.2 74.2,597 79.2,594 84.2,591.2 89,587.5 93.2,585 97.5,582.5 102.5,584 108,584.5 113,585 118,586.5 123,588 127.5,590 132,592.5 137,595.8 141.8,598.8 146.8,600.5 151.8,603.8 156.8,607 161.2,609.5 165,611.2 170.8,610.5 175.8,608 180,606.2 185.5,604.5 189.2,602.5 194.2,600 199.2,599.5 204.2,598.5 209.2,597.5 214.2,594.5 218,588.8 223,587 228,585 233,583.2 238,581.2 242.5,579.2 247,576.2 251.8,573.2 256.8,571.8 261.8,570 266.8,568.2 271.8,569.2 275.5,568.8 280.5,569.2 285.5,569.2 290.5,567.5 295.5,565.8 300.5,564.5 305,564.5 309.5,566.2 314.5,571.2 319.2,575 324.2,580 329.2,585 333,590.8 338,595 345,602.5 350,608.8 355,615 360,621.2 365,627.5 370,633 375,637.5 380,640 385,641.8 390,642 395,640.8 400,637 405,631.2 410,626.2 415,621.2 420,618.2 425,613.8 430,611.2 435,609.5 440,607.5 445,605.8 450,605 455,604.2 460,602.5 465,602.5 470,604.5 475,606.8 478.8,608 482.5,606.2 487.5,602.5 492.5,600.5 497.5,597.5 502.5,593.2 507.5,588.8 512.5,583.8 517.5,580 521.2,578.2 525,577.5 530,579 535,579.2 540,580.8 545,583.2 550,586.8 555,590 560,594.2 565,598.8 570,605 573.8,610 578.8,616.2 583.8,621.2 588.8,625.5 593.8,627.5 598.8,629.2 603.8,631.2 608.8,633.8 613.8,635.8 618.8,637 623.8,637.5 628.8,637 633.8,635 638.8,630.8 643.8,626.2 650,622 655,618 662.5,613 670,608.8 677.5,601.2 680,599.5 685,594.5 690,590 695,585.8 698,584.5 703,583.8 708,584.2 712.5,587 716.8,589.5 722.5,590.5 727.5,591.8 732.5,593 737.5,594.2 742.5,595 747.5,595.5 752.5,595.8 757.5,595 765,593 770.5,589.5 777.5,588.8 784.2,586.5 789.2,588 794.2,590.5 799.2,591.5 805,591.2 810,591 816.2,592 823,593.8 828,597.5 833,602 836.8,607 841.8,610 846.8,610.8 852.5,611.8 856.8,613 861.8,612 865.5,614.5 870.5,618.2 875.5,622 880.5,625.8 885.5,628.8 890.5,630.8 895,631.8 900,632.5 905,634.2 910,637 915,640 920,642.5 925,645.8 928.8,648.8 933,650.8 937.5,652 942.5,654.5 947.5,657 952.5,660 957.5,663 962.5,667 967.5,671.2 972.5,673.8 977.5,675 982.5,675.8 987.5,676 992.5,675.5 997.5,675.8 1002.5,675.8 1007.5,674.5 1012.5,673 1017.5,672.5 1025,673.8 1030,674.5 1035,675 1040,675.2 1045,674.5 1050,674.2 1057.5,674.5 1065,672.5 1070,671.2 1080,670.8 1087.5,669.5 1095,669.5 1100.5,669.2 1105.5,665.8 1110.5,664.2 1115.5,662.5 1120.5,661.8 1127.5,661.2 1134.2,661.8 1139.2,663.2 1145,664.5 1152.5,665.5 1160,666.2 1167.5,666.8 1172.5,669.2 1178,672.5 1183,676.2 1188,678.2 1192.5,679 1197.5,678.8 1202.5,679 1206.8,679.2"/>
<polyline fill="none" stroke="#7e57c2" stroke-width="1.3" stroke-linejoin="round" points="8.8,639.5 11.8,638.8 16.8,624.5 21.8,623.2 26.8,626.8 31.8,620.5 36.8,586.2 40.8,613.2 45.5,605.8 50.5,585.8 55.5,587.5 60.5,577.5 69,547.5 74.2,556.2 79.2,602 84.2,590 89,578.8 93.2,580 97.5,582.5 102.5,606.2 108,620 113,613.8 118,607.5 123,609.2 127.5,603.8 132,600 137,598.2 141.8,589.5 146.8,621.2 151.8,640.5 156.8,623.8 161.2,613.8 166.2,602.5 170.8,593 175.8,589.5 180,586.8 185.5,584 189.2,580 194.2,572.5 199.2,595 204.2,582.5 209.2,578.8 214.2,571.2 218,567.5 223,599 228,591.2 233,578.8 238,566.2 242.5,557.5 247,546.2 251.8,539.2 256.8,558.8 261.8,553.2 266.8,559.5 271.8,595 275.5,577 280.5,575 285.5,573.2 290.5,570.8 295.5,569.2 300.5,557.5 305,570 309.5,580 314.5,611.2 319.2,598.8 324.2,627.5 329.2,623.8 333,646.2 338,653 343,645 348,652 353,655 358,662.5 363,646.2 366.8,627.5 371.8,646.2 376.8,636.2 381.8,629.5 386.8,631.8 391.8,626.2 395.5,607.5 400.5,590 405.5,573.8 410.5,570.8 415.5,591.2 420.5,617 424.2,602.5 429.2,608.2 434.2,608.2 439.2,614.5 444.2,610 453,623 458,610 463,597.5 468,608.2 473,600.5 478,599.2 481.8,575 486.8,567 491.8,567.5 496.8,572.5 501.8,554.2 506.8,556.2 510.5,561.2 515.5,553.2 520.5,576.2 525.5,595 530.5,616.2 535.5,608.8 540.5,620.5 544.2,622.5 549.2,624.2 554.2,607 559.2,627.5 564.2,635 569.2,643.8 573,653.8 578,629.2 583,628.2 588,643.8 593,623.8 596.8,627.5 601.8,631.2 606.8,656.8 611.8,659 616.8,641.2 621.8,623 626.8,623 630.5,618.8 635.5,601.2 640.5,589.5 645.5,576.2 650.5,589.5 655.5,588 659.2,593.8 664.2,586.2 669.2,589.2 674.2,587.5 679.2,592.5 680,591.2 684.2,574.2 688,575 693,575 698,563.8 703,592.5 708,589.5 716.8,633 721.8,596.8 726.8,606.2 731.8,604.5 736.8,607 741.8,608.8 746.2,596.2 750.8,575.5 755.5,578.8 760.5,555 765.5,544.5 770.5,544 774.2,577.5 779.2,607.5 784.2,601.2 789.2,613.2 794.2,640 799.2,615.8 804.2,608.2 808,602.5 813,596.8 818,595 823,595.8 828,613.8 833,601.2 836.8,625.5 841.8,627 846.8,612 851.8,613 856.8,632.5 861.8,630 865.5,648.8 870.5,668 875.5,650.8 880.5,648.8 885.5,631.8 890.5,632.5 899.2,608.2 904.2,646.8 909.2,654.5 914.2,662.5 919.2,647.5 924.2,676.2 928,690.8 933,681.8 938,685 943,688 948,680 953,674.2 956.8,659.2 961.8,667.5 966.8,678.8 971.8,684.2 976.8,675 981.8,663.2 985.5,660 990.5,673 995.5,685.8 1000.5,688.8 1005.5,671.2 1010.5,665.5 1015.5,672 1020,675.8 1024.2,672.5 1029.2,671.2 1034.2,686.2 1039.2,691.2 1043,665.5 1048,660.5 1053,663.2 1058,673.8 1063,667.5 1068,663.2 1073,664.5 1078,664.5 1081.8,665.8 1086.8,659.5 1091.8,670 1096.8,680.5 1100.5,680.5 1105.5,641.2 1110.5,650.8 1115.5,628 1120.5,655 1125.5,668.2 1130.5,665.5 1134.2,665.8 1139.2,683.8 1144.2,684.5 1149.2,673 1154.2,676.2 1159.2,675.5 1164.2,682.5 1168,683.8 1173,682.5 1178,684.5 1183,690.5 1188,683 1191.8,677.5 1196.8,663.2 1201.8,667.5 1206.8,691.8"/>
<g shape-rendering="crispEdges">
<line x1="8" y1="519.5" x2="1395" y2="519.5" stroke="#e0e3eb" stroke-width="1"/>
<line x1="8" y1="713.5" x2="1395" y2="713.5" stroke="#e0e3eb" stroke-width="1"/>
<rect x="1312" y="4" width="83" height="743" fill="#ffffff"/>
<line x1="1311.5" y1="4" x2="1311.5" y2="747" stroke="#e0e3eb" stroke-width="1"/>
<line x1="8" y1="519.5" x2="1395" y2="519.5" stroke="#e0e3eb" stroke-width="1"/>
<line x1="8" y1="713.5" x2="1395" y2="713.5" stroke="#e0e3eb" stroke-width="1"/>
<line x1="1311.5" y1="4" x2="1311.5" y2="25" stroke="#0a2a96" stroke-width="1.2"/>
</g>
<rect x="75" y="14" width="35" height="18" fill="#ffffff"/>
<text x="18.3" y="27.9" font-size="16" fill="#131722" textLength="55.7" lengthAdjust="spacingAndGlyphs">DXY, 1D,</text>
<text x="115" y="27.9" font-size="16" fill="#131722" textLength="10" lengthAdjust="spacingAndGlyphs">O</text>
<text x="125.5" y="27.9" font-size="16" fill="#ef5350" textLength="51.5" lengthAdjust="spacingAndGlyphs">102.095</text>
<text x="187.3" y="27.9" font-size="16" fill="#131722" textLength="9.5" lengthAdjust="spacingAndGlyphs">H</text>
<text x="197.3" y="27.9" font-size="16" fill="#ef5350" textLength="51.5" lengthAdjust="spacingAndGlyphs">102.185</text>
<text x="259.3" y="27.9" font-size="16" fill="#131722" textLength="7" lengthAdjust="spacingAndGlyphs">L</text>
<text x="266.8" y="27.9" font-size="16" fill="#ef5350" textLength="51" lengthAdjust="spacingAndGlyphs">101.036</text>
<text x="327.7" y="27.9" font-size="16" fill="#131722" textLength="9" lengthAdjust="spacingAndGlyphs">C</text>
<text x="337.2" y="27.9" font-size="16" fill="#ef5350" textLength="51" lengthAdjust="spacingAndGlyphs">101.145</text>
<text x="398.3" y="27.9" font-size="16" fill="#ef5350" textLength="105.5" lengthAdjust="spacingAndGlyphs">−0.944 (−0.92%)</text>
<text x="1324.5" y="34.4" font-size="16" fill="#131722" textLength="52" lengthAdjust="spacingAndGlyphs" fill-opacity="0.16">116.000</text>
<rect x="1313" y="4" width="81" height="29.2" fill="#ffffff"/>
<text x="1323.6" y="25.2" font-size="16" fill="#131722" textLength="25.5" lengthAdjust="spacingAndGlyphs">USD</text>
<text x="1324.5" y="77.3" font-size="16" fill="#131722" textLength="52" lengthAdjust="spacingAndGlyphs">114.000</text>
<text x="1324.5" y="119.4" font-size="16" fill="#131722" textLength="52" lengthAdjust="spacingAndGlyphs">112.000</text>
<text x="1324.5" y="161.5" font-size="16" fill="#131722" textLength="52" lengthAdjust="spacingAndGlyphs">110.000</text>
<text x="1324.5" y="203.7" font-size="16" fill="#131722" textLength="52" lengthAdjust="spacingAndGlyphs">108.000</text>
<text x="1324.5" y="245.8" font-size="16" fill="#131722" textLength="52" lengthAdjust="spacingAndGlyphs">106.000</text>
<text x="1324.5" y="414.3" font-size="16" fill="#131722" textLength="44.5" lengthAdjust="spacingAndGlyphs">98.000</text>
<text x="1324.5" y="456.5" font-size="16" fill="#131722" textLength="44.5" lengthAdjust="spacingAndGlyphs">96.000</text>
<text x="1324.5" y="545.3" font-size="16" fill="#131722" textLength="36.5" lengthAdjust="spacingAndGlyphs">80.00</text>
<text x="1324.5" y="607.3" font-size="16" fill="#131722" textLength="36.5" lengthAdjust="spacingAndGlyphs">60.00</text>
<path d="M1311 220 H1383 a2 2 0 0 1 2 2 V239 a2 2 0 0 1 -2 2 H1311 Z" fill="#2962ff"/>
<text x="1324.5" y="235.7" font-size="16" fill="#ffffff" textLength="52" lengthAdjust="spacingAndGlyphs" stroke="#ffffff" stroke-width="0.35">106.466</text>
<path d="M1311 266 H1383 a2 2 0 0 1 2 2 V285 a2 2 0 0 1 -2 2 H1311 Z" fill="#801922"/>
<text x="1324.5" y="281.7" font-size="16" fill="#ffffff" textLength="52" lengthAdjust="spacingAndGlyphs" stroke="#ffffff" stroke-width="0.35">103.842</text>
<path d="M1311 287 H1383 a2 2 0 0 1 2 2 V306 a2 2 0 0 1 -2 2 H1311 Z" fill="#0a2a96"/>
<text x="1324.5" y="302.7" font-size="16" fill="#ffffff" textLength="52" lengthAdjust="spacingAndGlyphs" stroke="#ffffff" stroke-width="0.35">103.290</text>
<path d="M1311 311 H1383 a2 2 0 0 1 2 2 V330 a2 2 0 0 1 -2 2 H1311 Z" fill="#0a2a96"/>
<text x="1324.5" y="326.7" font-size="16" fill="#ffffff" textLength="52" lengthAdjust="spacingAndGlyphs" stroke="#ffffff" stroke-width="0.35">101.297</text>
<path d="M1311 332 H1388 a2 2 0 0 1 2 2 V369 a2 2 0 0 1 -2 2 H1311 Z" fill="#ef5350"/>
<text x="1324.5" y="347.6" font-size="16" fill="#ffffff" textLength="52" lengthAdjust="spacingAndGlyphs" stroke="#ffffff" stroke-width="0.35">101.145</text>
<text x="1323.8" y="365.9" font-size="16" fill="#ffffff" textLength="57.8" lengthAdjust="spacingAndGlyphs" fill-opacity="0.85">03:09:22</text>
<path d="M1311 371.2 H1374 a2 2 0 0 1 2 2 V389.8 a2 2 0 0 1 -2 2 H1311 Z" fill="#311b92"/>
<text x="1324.5" y="386.7" font-size="16" fill="#ffffff" textLength="44.5" lengthAdjust="spacingAndGlyphs" stroke="#ffffff" stroke-width="0.35">99.418</text>
<path d="M1311 477.2 H1374 a2 2 0 0 1 2 2 V497.5 a2 2 0 0 1 -2 2 H1311 Z" fill="#1976d2"/>
<text x="1324.5" y="492.9" font-size="16" fill="#ffffff" textLength="44.5" lengthAdjust="spacingAndGlyphs" stroke="#ffffff" stroke-width="0.35">94.286</text>
<path d="M1311 498 H1374 a2 2 0 0 1 2 2 V517 a2 2 0 0 1 -2 2 H1311 Z" fill="#1976d2"/>
<text x="1324.5" y="514" font-size="16" fill="#ffffff" textLength="44.5" lengthAdjust="spacingAndGlyphs" stroke="#ffffff" stroke-width="0.35">92.658</text>
<path d="M1311 660.5 H1367 a2 2 0 0 1 2 2 V679 a2 2 0 0 1 -2 2 H1311 Z" fill="#ffeb3b"/>
<text x="1324.5" y="675.95" font-size="16" fill="#131722" textLength="36.5" lengthAdjust="spacingAndGlyphs">35.32</text>
<path d="M1311 681 H1367 a2 2 0 0 1 2 2 V700 a2 2 0 0 1 -2 2 H1311 Z" fill="#7e57c2"/>
<text x="1324.5" y="696.7" font-size="16" fill="#ffffff" textLength="36.5" lengthAdjust="spacingAndGlyphs" stroke="#ffffff" stroke-width="0.35">31.56</text>
<text x="1300.7" y="72.3" font-size="16" fill="#27702d" text-anchor="end" textLength="71.2" lengthAdjust="spacingAndGlyphs">0(114.778)</text>
<text x="1300.7" y="333.8" font-size="16" fill="#27702d" text-anchor="end" textLength="100" lengthAdjust="spacingAndGlyphs">0.618(102.345)</text>
<text x="1300.7" y="495.7" font-size="16" fill="#27702d" text-anchor="end" textLength="63.5" lengthAdjust="spacingAndGlyphs">1(94.660)</text>
<circle cx="1207.6" cy="502.4" r="12.1" fill="#ffffff" stroke="#9c27b0" stroke-width="1.9"/>
<path d="M1211.6 495.9 L1202.4 503.3 L1207.1 503.3 L1203.4 508.9 L1212.4 501.4 L1208.3 501.4 Z" fill="#9c27b0"/>
<text x="55.6" y="736.2" font-size="16" fill="#131722" text-anchor="middle" textLength="7.8" lengthAdjust="spacingAndGlyphs">2</text>
<text x="161" y="736.2" font-size="16" fill="#131722" text-anchor="middle" textLength="23" lengthAdjust="spacingAndGlyphs">Apr</text>
<text x="261.6" y="736.2" font-size="16" fill="#131722" text-anchor="middle" textLength="25.8" lengthAdjust="spacingAndGlyphs">May</text>
<text x="367" y="736.2" font-size="16" fill="#131722" text-anchor="middle" textLength="23" lengthAdjust="spacingAndGlyphs">Jun</text>
<text x="472.5" y="736.2" font-size="16" fill="#131722" text-anchor="middle" textLength="18.5" lengthAdjust="spacingAndGlyphs">Jul</text>
<text x="573" y="736.2" font-size="16" fill="#131722" text-anchor="middle" textLength="24.5" lengthAdjust="spacingAndGlyphs">Aug</text>
<text x="683.5" y="736.2" font-size="16" fill="#131722" text-anchor="middle" textLength="24.5" lengthAdjust="spacingAndGlyphs">Sep</text>
<text x="789" y="736.2" font-size="16" fill="#131722" text-anchor="middle" textLength="22.5" lengthAdjust="spacingAndGlyphs">Oct</text>
<text x="890.5" y="736.2" font-size="16" fill="#131722" text-anchor="middle" textLength="25.5" lengthAdjust="spacingAndGlyphs">Nov</text>
<text x="995.6" y="736.2" font-size="16" fill="#131722" text-anchor="middle" textLength="23.8" lengthAdjust="spacingAndGlyphs">Dec</text>
<text x="1206.9" y="736.2" font-size="16" fill="#131722" text-anchor="middle" textLength="23.8" lengthAdjust="spacingAndGlyphs">Feb</text>
<text x="1303.5" y="736.2" font-size="16" fill="#131722" textLength="7.6" lengthAdjust="spacingAndGlyphs">2</text>
<rect x="1312" y="714" width="83" height="33" fill="#ffffff"/>
<path d="M1047 713.5 H1164.3 V740.5 a2 2 0 0 1 -2 2 H1049 a2 2 0 0 1 -2 -2 Z" fill="#2196f3"/>
<text x="1105.7" y="736.2" font-size="16" fill="#ffffff" text-anchor="middle" textLength="92.5" lengthAdjust="spacingAndGlyphs" stroke="#ffffff" stroke-width="0.35">Tue 03 Jan '23</text>
<g>
<rect x="46.5" y="87.5" width="399" height="61" fill="#ffffff"/>
<path fill="#04394f" d="M47.9 90.4H93.45V103.8H63.3V114H90.7V125.7H63.3V146.4H47.9Z"/>
<path fill="#0bb15a" fill-rule="evenodd" d="M98.00 118.30 C98.00 100.66 109.52 88.90 126.80 88.90 C144.08 88.90 155.60 100.66 155.60 118.30 C155.60 135.94 144.08 147.70 126.80 147.70 C109.52 147.70 98.00 135.94 98.00 118.30Z M115.40 118.50 C115.40 103.81 119.29 96.90 127.55 96.90 C135.81 96.90 139.70 103.81 139.70 118.50 C139.70 133.19 135.81 140.10 127.55 140.10 C119.29 140.10 115.40 133.19 115.40 118.50Z"/>
<path fill="#0bb15a" d="M130.9 111.6H165.1L163.6 116.8H129.5Z M129.4 121.1H163.7L162.4 126.3H128.2Z"/>
<path fill="#04394f" fill-rule="evenodd" d="M170 90.4H199.5C213 90.4 221.2 97.7 221.2 109.4C221.2 117.9 217 123.8 209.4 126.6L222.3 146.4H204.7L192.6 128.6H185.8V146.4H170Z M185.8 104.1V118H198.3C203 118 205.5 115.4 205.5 111.1C205.5 106.7 203 104.1 198.3 104.1Z"/>
<path fill="#04394f" d="M229.1 90.4H274.2V103.4H244.4V113H271.2V123.8H244.4V133.2H274.2V146.4H229.1Z"/>
<path fill="#04394f" d="M280.8 90.4H298.5L308.5 106.4L318.9 90.4H336.3L317.9 118L337.3 146.4H319.4L308.5 129.5L297 146.4H279.6L299 118Z"/>
<circle cx="346.2" cy="125.8" r="4.3" fill="#04394f"/>
<g fill="none" stroke="#04394f" stroke-width="7.2">
<path d="M371.9 113.6A8.7 7.6 0 1 0 371.9 125.4"/>
<ellipse cx="390.15" cy="119.5" rx="8.65" ry="7.6"/>
<path d="M410.1 108.8V130.7M410.1 130.7V118.6A7.25 6.7 0 0 1 424.6 118.6V130.7M424.6 130.7V118.6A7.45 6.7 0 0 1 439.5 118.6V130.7"/>
</g>
</g>
<path fill="#131722" d="M8.1 763.75H19V775.9H12.1V769.4H8.1Z"/>
<circle cx="21.5" cy="766" r="2.15" fill="#131722"/>
<path fill="#131722" d="M25.6 763.75H32.25L27.25 775.9H20.6Z"/>
<text x="37.5" y="775.6" font-size="14.8" fill="#2a2e39" textLength="87" lengthAdjust="spacingAndGlyphs">TradingView</text>
</svg>
</body></html>
